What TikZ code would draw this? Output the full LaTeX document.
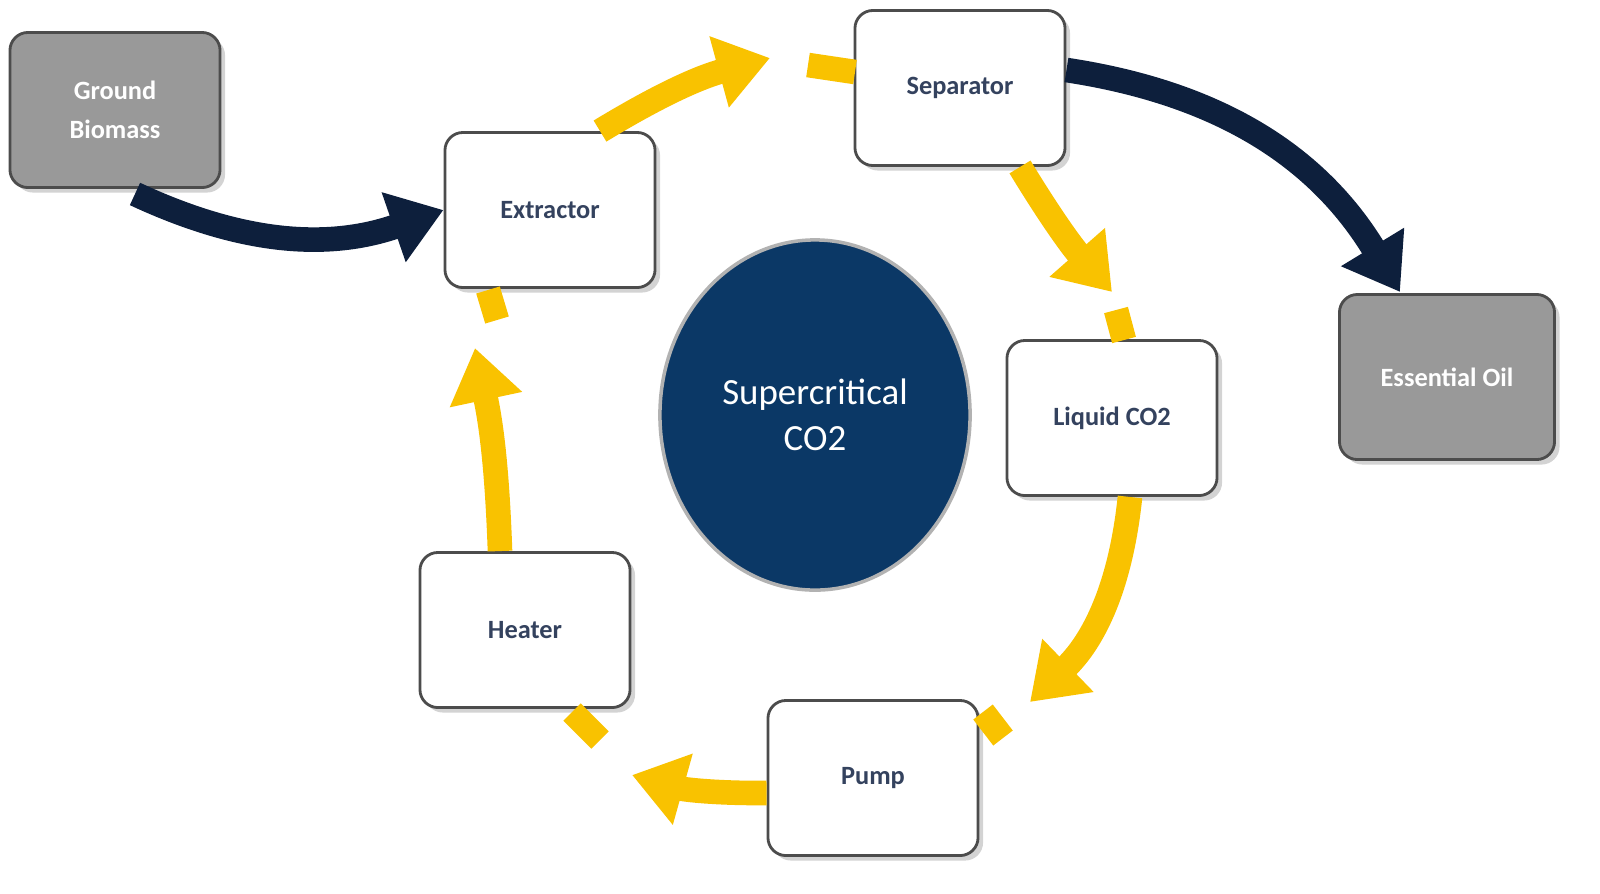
\documentclass[tikz,border=0pt]{standalone}
\usepackage{fontspec}
\setmainfont{Carlito}
\usetikzlibrary{arrows.meta,shadows,shapes.geometric}
\definecolor{navy}{HTML}{0B3866}
\definecolor{darknavy}{HTML}{0D1F3C}
\definecolor{gold}{HTML}{F9C200}
\definecolor{txt}{HTML}{34425E}
\begin{document}
\begin{tikzpicture}[x=0.01cm,y=-0.01cm,
  box/.style={draw=black!70,line width=0.8pt,rounded corners=0.18cm,fill=white,
     minimum width=2.1cm,minimum height=1.55cm,font=\bfseries\fontsize{7.5}{9}\selectfont,
     text=txt,align=center,drop shadow={opacity=0.35,shadow xshift=0.05cm,shadow yshift=-0.05cm}},
  gbox/.style={box,fill=black!40,text=white},
  ya/.style={draw=gold,line width=7pt,-{Triangle[width=20pt,length=15pt]}},
  ys/.style={draw=gold,line width=7pt},
  na/.style={draw=darknavy,line width=7pt,-{Triangle[width=20pt,length=15pt]}}]
\path[use as bounding box] (0,0) rectangle (1600,893);
\begin{pgfinterruptboundingbox}
\node[gbox] (gb) at (115,110) {Ground\\[2pt]Biomass};
\node[box] (ex) at (550,210) {Extractor};
\node[box] (sep) at (960,88) {Separator};
\node[box] (liq) at (1112,418) {Liquid CO2};
\node[box] (pump) at (873,778) {Pump};
\node[box] (heat) at (525,630) {Heater};
\node[gbox,minimum width=2.15cm,minimum height=1.65cm] (oil) at (1447,377) {Essential Oil};
\node[ellipse,draw=black!30,line width=1pt,fill=navy,minimum width=3.1cm,minimum height=3.5cm,
  text=white,align=center,font=\fontsize{10.5}{13}\selectfont] (sc) at (815,415) {Supercritical\\CO2};
% yellow cycle
\coordinate (a1) at (770,58);
\draw[ya] (ex.north) ++(50,0) to[bend left=8] (a1);
\coordinate (s1a) at (808,65); \coordinate (s1b) at (855,72);
\draw[ys] (s1a) -- (s1b);
\coordinate (a2) at (1112,292);
\draw[ya] (sep.south) ++(60,0) to[bend right=5] (a2);
\coordinate (s2a) at (1116,310); \coordinate (s2b) at (1124,340);
\draw[ys] (s2a) -- (s2b);
\coordinate (a3) at (1030,702);
\draw[ya] (liq.south) ++(18,0) to[bend left=20] (a3);
\coordinate (s3a) at (983,712); \coordinate (s3b) at (1003,738);
\draw[ys] (s3a) -- (s3b);
\coordinate (a4) at (632,775);
\draw[ya] (pump.west) ++(0,15) to[bend left=8] (a4);
\coordinate (s4a) at (572,712); \coordinate (s4b) at (600,740);
\draw[ys] (s4a) -- (s4b);
\coordinate (a5) at (475,348);
\draw[ya] (heat.north) ++(-25,0) to[bend right=5] (a5);
\coordinate (s5a) at (488,290); \coordinate (s5b) at (497,320);
\draw[ys] (s5a) -- (s5b);
% navy arrows
\draw[na] (gb.south) ++(20,5) to[bend right=22] (ex.west);
\coordinate (a6) at (1400,292);
\draw[na] (sep.east) ++(0,-18) to[bend left=25] (a6);
\end{pgfinterruptboundingbox}
\end{tikzpicture}
\end{document}
